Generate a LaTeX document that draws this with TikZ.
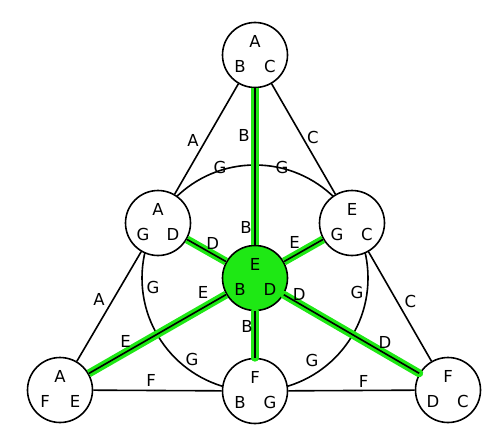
\documentclass[tikz,border=0pt]{standalone}
\usepackage{fontspec}
\setmainfont{DejaVu Sans}
\usetikzlibrary{positioning}
\definecolor{hlgreen}{RGB}{30,232,20}
% three letters inside a point node
\newcommand{\trio}[4]{%
  \node[ltr, yshift=14pt] at (#1) {#2};
  \node[ltr, xshift=-15pt, yshift=-11pt] at (#1) {#3};
  \node[ltr, xshift=15pt, yshift=-11pt] at (#1) {#4};}

\begin{document}
\begin{tikzpicture}[
  x=1pt, y=-1pt, line width=1.6pt,
  pnt/.style={draw, circle, fill=white, minimum size=65pt, inner sep=0pt},
  ltr/.style={inner sep=0pt, font=\fontsize{16.5}{18}\selectfont},
  elbl/.style={inner sep=0pt, font=\fontsize{16.5}{18}\selectfont},
  hl/.style={draw=hlgreen, line width=8pt}
]
\useasboundingbox (0,0) rectangle (502,444);
\coordinate (o) at (255,278);
\draw (o) circle[radius=113];
\node[pnt] (top) at (255,55) {};
\node[pnt] (lm)  at (158,223) {};
\node[pnt] (rm)  at (352,223) {};
\node[pnt] (bl)  at (60,390) {};
\node[pnt] (bm)  at (255,391) {};
\node[pnt] (br)  at (448,390) {};
\node[pnt, fill=hlgreen] (c) at (o) {};
\trio{top}{A}{B}{C}
\trio{lm}{A}{G}{D}
\trio{rm}{E}{G}{C}
\trio{c}{E}{B}{D}
\trio{bl}{A}{F}{E}
\trio{bm}{F}{B}{G}
\trio{br}{F}{D}{C}
% triangle sides
\draw (top) -- node[elbl, xshift=-13.5pt, yshift=-1pt]{A} (lm);
\draw (lm) -- node[elbl, xshift=-10pt, yshift=7.5pt]{A} (bl);
\draw (top) -- node[elbl, xshift=9.5pt, yshift=2pt]{C} (rm);
\draw (rm) -- node[elbl, xshift=10.5pt, yshift=5pt]{C} (br);
\draw (bl) -- node[elbl, xshift=-6.5pt, yshift=10pt]{F} (bm);
\draw (bm) -- node[elbl, xshift=12pt, yshift=9pt]{F} (br);
% circle labels
\node[elbl] (g1) at (220,167) {G};
\node[elbl] (g2) at (282,167) {G};
\node[elbl] (g3) at (153,287) {G};
\node[elbl] (g4) at (357,292) {G};
\node[elbl] (g5) at (192,359) {G};
\node[elbl] (g6) at (312,360) {G};
% highlighted spokes
\foreach \n in {top,lm,rm,bl}
  \draw[hl] (c) -- (\n);
\foreach \n in {bm,br}
  \draw[hl, line cap=round] (c) -- (\n);
\draw (c) -- node[elbl, pos=.108, xshift=-9pt]{B}
             node[elbl, pos=.696, xshift=-11pt]{B} (top);
\draw (c) -- node[elbl, pos=.343, yshift=10pt]{D} (lm);
\draw (c) -- node[elbl, pos=.27, yshift=13pt]{E} (rm);
\draw (c) -- node[elbl, pos=.318, xshift=-8pt]{B} (bm);
\draw (c) -- node[elbl, pos=.167, yshift=15pt]{E}
             node[elbl, pos=.733, yshift=11pt]{E} (bl);
\draw (c) -- node[elbl, pos=.113, yshift=9pt]{D}
             node[elbl, pos=.748, yshift=11.5pt]{D} (br);
\end{tikzpicture}
\end{document}
